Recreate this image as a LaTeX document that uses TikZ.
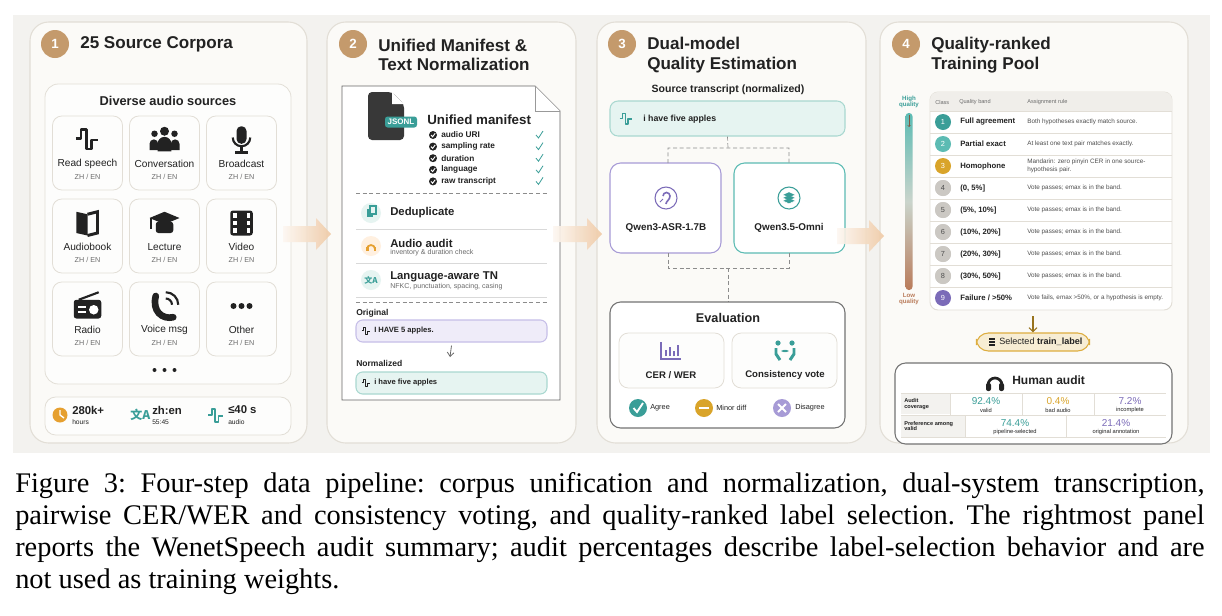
\documentclass[tikz,border=0pt]{standalone}
\usepackage{fontspec}
\setmainfont{Liberation Sans}
\newfontfamily\capfont{Liberation Serif}
\newfontfamily\cjk{Noto Sans CJK SC}
\usetikzlibrary{shapes.geometric,arrows.meta,fit,calc}
\definecolor{bgc}{HTML}{F3F2EF}
\definecolor{panelf}{HTML}{FBFAF7}
\definecolor{panelb}{HTML}{E2DED6}
\definecolor{tan}{HTML}{C49A6C}
\definecolor{teal}{HTML}{3A9E98}
\definecolor{lteal}{HTML}{5CBBB3}
\definecolor{gold}{HTML}{D9A42A}
\definecolor{purp}{HTML}{7B6BB8}
\definecolor{lpurp}{HTML}{A79BD6}
\definecolor{greyc}{HTML}{CBC8C3}
\definecolor{brownq}{HTML}{B97B5A}
\definecolor{mintf}{HTML}{E6F4F1}
\definecolor{mintb}{HTML}{A9D8D0}
\definecolor{lavf}{HTML}{EFECF9}
\definecolor{lavb}{HTML}{C6BEE8}
\definecolor{peach}{HTML}{EFC9A4}
\definecolor{ink}{HTML}{222222}
\definecolor{sub}{HTML}{6B6B6B}
\definecolor{orng}{HTML}{E6A030}
\newcommand\fs[1]{\fontsize{#1}{#1}\selectfont}
\newcommand\icwave[4]{\begin{scope}[shift={(#1,#2)},scale=#3]\draw[#4,line width=1.5pt*#3,line join=round] (-9,-1)--(-5,-1)--(-5,-8)--(-1,-8)--(-1,7)--(3,7)--(3,0)--(8,0);\end{scope}}
\begin{document}
\begin{tikzpicture}[x=0.75pt,y=-0.75pt,
  t/.style={inner sep=0,anchor=west,text=ink},
  tc/.style={inner sep=0,text=ink},
  panel/.style={draw=panelb,fill=panelf,rounded corners=14pt,line width=0.8pt,inner sep=0},
  tile/.style={draw=panelb,fill=white!60!panelf,rounded corners=7pt,line width=0.6pt,inner sep=0},
  num/.style={circle,fill=tan,text=white,font=\bfseries\fs{10},minimum size=21pt,inner sep=0},
  ttl/.style={inner sep=0,anchor=west,text=ink,font=\bfseries\fs{12.8},align=left},
  tlab/.style={tc,font=\fs{7.6}},
  tsub/.style={tc,font=\fs{5.4},text=sub},
  cls/.style={circle,minimum size=12pt,inner sep=0,text=white,font=\fs{5.5}},
  band/.style={t,font=\bfseries\fs{5.8}},
  rule/.style={t,font=\fs{4.75},text=ink!80,align=left},
  dsh/.style={densely dashed,draw=black!45,line width=0.5pt}]
\useasboundingbox (0,0) rectangle (1222,615);
\fill[white] (0,0) rectangle (1222,615);
\fill[bgc] (13,15) rectangle (1210,453);
% ---------- panels
\node[panel,fit={(30,22)(307,443)}] (p1) {};
\node[panel,fit={(327,22)(576,443)}] (p2) {};
\node[panel,fit={(597,22)(866,443)}] (p3) {};
\node[panel,fit={(880,22)(1188,443)}] (p4) {};
% ---------- panel 1
\node[num] (n1) at (55,44) {1};
\node[ttl] (t1) at (80,44) {25 Source Corpora};
\node[tile,rounded corners=10pt,fit={(45,84)(291,384)}] (src) {};
\node[tc,font=\bfseries\fs{9.6}] (srct) at (168,101) {Diverse audio sources};
\foreach \nm/\lab/\cx/\cy in {rs/Read speech/87.5/153, cv/Conversation/164.5/153, bc/Broadcast/241.5/153,
   ab/Audiobook/87.5/236, lc/Lecture/164.5/236, vd/Video/241.5/236,
   rd/Radio/87.5/319, vm/Voice msg/164.5/319, ot/Other/241.5/319}{
  \node[tile,fit={(\cx-35,\cy-37)(\cx+35,\cy+37)}] (\nm) {};
  \node[tlab] (\nm l) at (\cx,\cy+11) {\lab};
  \node[tsub] (\nm s) at (\cx,\cy+24) {ZH / EN};
}
% icons
\icwave{87.5}{140}{1.3}{ink}
\begin{scope}[shift={(164.5,140)},scale=1.25]
 \fill[ink] (0,-7) circle (3.6); \fill[ink] (-8,-5) circle (2.6); \fill[ink] (8,-5) circle (2.6);
 \fill[ink] (-5.5,9)--(-5.5,3) arc (180:360:5.5)--(5.5,9)--cycle;
 \fill[ink] (-12,8)--(-12,3) arc (180:360:3.5)--(-5,8)--cycle;
 \fill[ink] (5,8)--(5,3) arc (180:360:3.5)--(12,8)--cycle;
\end{scope}
\begin{scope}[shift={(241.5,140)},scale=1.25]
 \fill[ink,rounded corners=3.5pt] (-4,-11) rectangle (4,3);
 \draw[ink,line width=1.6pt] (-7,-2) arc (180:0:7);
 \draw[ink,line width=1.6pt] (0,5)--(0,10) (-5,10)--(5,10);
\end{scope}
\begin{scope}[shift={(87.5,223)},scale=1.25]
 \fill[ink] (-9,-9)--(0,-7)--(0,10)--(-9,8)--cycle;
 \draw[ink,line width=2.2pt] (0,-7)--(8,-9)--(8,8)--(0,10);
\end{scope}
\begin{scope}[shift={(164.5,223)},scale=1.25]
 \fill[ink] (0,-9)--(12,-4)--(0,1)--(-12,-4)--cycle;
 \fill[ink,rounded corners=2pt] (-7,-1) rectangle (7,8);
 \draw[ink,line width=1.4pt] (-11,-4)--(-11,5);
\end{scope}
\begin{scope}[shift={(241.5,223)},scale=1.25]
 \fill[ink,rounded corners=2pt] (-9,-10) rectangle (9,10);
 \foreach \yy in {-6,0,6}{\fill[white] (-7,\yy-1.8) rectangle (-4,\yy+1.8); \fill[white] (4,\yy-1.8) rectangle (7,\yy+1.8);}
\end{scope}
\begin{scope}[shift={(87.5,306)},scale=1.25]
 \draw[ink,line width=1.6pt] (-7,-5)--(9,-11);
 \fill[ink,rounded corners=2pt] (-11,-5) rectangle (11,10);
 \fill[white] (5,3) circle (3.8);
 \fill[white] (-8,0) rectangle (-1,1.5); \fill[white] (-8,4) rectangle (-1,5.5);
\end{scope}
\begin{scope}[shift={(164.5,306)},scale=1.25]
 \draw[ink,line width=5pt,line cap=round] (-7,-8) .. controls (-10,4) and (-2,11) .. (7,9);
 \draw[ink,line width=1.6pt] (1,-6) arc (270:360:5);
 \draw[ink,line width=1.6pt] (1,-11) arc (270:360:10);
\end{scope}
\foreach \dx in {-8,0,8}{\fill[ink] (241.5+\dx,306) circle (3);}
\foreach \dx in {-10,0,10}{\fill[ink] (164.5+\dx,370) circle (2);}
% stats
\node[tile,rounded corners=8pt,fit={(45,397)(291,435)}] (stats) {};
\fill[orng] (60,415) circle (7.5); \draw[white,line width=1pt] (60,410)--(60,415)--(64,418);
\node[t,font=\bfseries\fs{8.5}] (s1) at (72,410) {280k+};
\node[t,font=\fs{5}] (s1b) at (72,422) {hours};
\node[t,font=\cjk\bfseries\fs{9},text=teal] (s2i) at (130,415) {文A};
\node[t,font=\bfseries\fs{8.5}] (s2) at (152,410) {zh:en};
\node[t,font=\fs{5}] (s2b) at (152,422) {55:45};
\icwave{216}{416}{0.85}{teal}
\node[t,font=\bfseries\fs{8.5}] (s3) at (228,410) {≤40 s};
\node[t,font=\fs{5}] (s3b) at (228,422) {audio};
% ---------- panel 2
\node[num] (n2) at (353,44) {2};
\node[ttl] (t2) at (378,55) {Unified Manifest \&\\[2pt] Text Normalization};
\draw[black!60,fill=white,line width=0.7pt] (342,86)--(535,86)--(560,111)--(560,400)--(342,400)--cycle;
\node[inner sep=0,fit={(342,86)(560,400)}] (doc) {};
\fill[white] (535,86)--(535,111)--(560,111)--cycle;
\draw[black!40,line width=0.6pt] (535,86)--(535,111)--(560,111);
\begin{scope}[shift={(386,116)}]
 \fill[ink!90,rounded corners=3pt] (-18,-24)--(6,-24)--(18,-12)--(18,24)--(-18,24)--cycle;
 \fill[white] (6,-24)--(6,-12)--(18,-12)--cycle;
\end{scope}
\node[fill=teal,text=white,font=\bfseries\fs{6},rounded corners=2pt,inner sep=2pt] (jsonl) at (401,122) {JSONL};
\node[t,font=\bfseries\fs{10}] (um) at (427,120) {Unified manifest};
\foreach \i/\it in {0/audio URI,1/sampling rate,2/duration,3/language,4/raw transcript}{
  \fill[ink] (433,135+11.6*\i) circle (4);
  \draw[white,line width=0.7pt] (431,135+11.6*\i)--(432.6,136.8+11.6*\i)--(435.2,133.3+11.6*\i);
  \node[t,font=\bfseries\fs{6.2}] (ck\i) at (441,135+11.6*\i) {\it};
  \draw[teal,line width=0.6pt] (536,135+11.6*\i)--(538.5,138+11.6*\i)--(543,131+11.6*\i);
}
\draw[dsh] (356,193)--(547,193);
\fill[mintf] (371,213) circle (10);
\fill[teal] (367,209) rectangle (373,217); \draw[teal,fill=mintf,line width=0.8pt] (370,206) rectangle (376,214);
\node[t,font=\bfseries\fs{8.5}] (dd) at (390,213) {Deduplicate};
\draw[black!15] (356,229)--(547,229);
\fill[orange!12] (371,246) circle (10);
\draw[orng,line width=1.3pt] (367,249) arc (180:360:4); \fill[orng] (366,247) rectangle (368.5,251); \fill[orng] (373.5,247) rectangle (376,251);
\node[t,font=\bfseries\fs{8.5}] (aa) at (390,243) {Audio audit};
\node[t,font=\fs{5.3},text=sub] (aas) at (390,253) {inventory \& duration check};
\draw[black!15] (356,263)--(547,263);
\fill[mintf] (371,280) circle (10);
\node[tc,font=\cjk\bfseries\fs{6},text=teal] (tni) at (371,280) {文A};
\node[t,font=\bfseries\fs{8.5}] (tn) at (390,277) {Language-aware TN};
\node[t,font=\fs{5.3},text=sub] (tns) at (390,287) {NFKC, punctuation, spacing, casing};
\draw[black!15] (356,297)--(547,297);
\draw[dsh] (356,302)--(547,302);
\node[t,font=\bfseries\fs{6.4}] (orig) at (356,313) {Original};
\node[draw=lavb,fill=lavf,rounded corners=5pt,line width=0.8pt,fit={(356,320)(547,342)},inner sep=0] (ob) {};
\icwave{366}{331}{0.45}{ink}
\node[t,font=\bfseries\fs{5.7}] (obt) at (374,331) {I HAVE 5 apples.};
\node[draw=mintb,fill=mintf,rounded corners=5pt,line width=0.8pt,fit={(356,372)(547,394)},inner sep=0] (nb) {};
\draw[-{Straight Barb[length=3pt,width=5pt]},black!60,line width=0.6pt] (ob.south)++(0,3)--(450,357);
\node[t,font=\bfseries\fs{6.4}] (norm) at (356,363) {Normalized};
\icwave{366}{383}{0.45}{ink}
\node[t,font=\bfseries\fs{5.7}] (nbt) at (374,383) {i have five apples};
% ---------- panel 3
\node[num] (n3) at (622,44) {3};
\node[ttl] (t3) at (647,55) {Dual-model\\[2pt] Quality Estimation};
\node[tc,font=\bfseries\fs{7.9}] (srcl) at (728,90) {Source transcript (normalized)};
\node[draw=mintb,fill=mintf,rounded corners=6pt,line width=0.8pt,fit={(610,101)(845,136)},inner sep=0] (stb) {};
\icwave{626}{119}{0.7}{teal}
\node[t,font=\bfseries\fs{6.6}] (stt) at (643,119) {i have five apples};
\node[draw=lpurp,fill=white,rounded corners=8pt,line width=0.8pt,fit={(610,163)(721,253)},inner sep=0] (m1) {};
\node[draw=lteal,fill=white,rounded corners=8pt,line width=0.8pt,fit={(734,163)(845,253)},inner sep=0] (m2) {};
\draw[dsh] (stb.south)--(728,148) (668,163)--(668,148)--(789,148)--(789,163);
\draw[dsh] (668,253)--(668,268)--(789,268)--(789,253) (728,268)--(728,302);
\draw[purp,line width=0.8pt] (666,198) circle (11);
\draw[purp,line width=1.2pt] (663,196) arc (180:360:3.5) .. controls (670,200) and (666,201) .. (666,204);
\draw[purp,line width=0.7pt] (660,202)--(663,199);
\node[tc,font=\bfseries\fs{7.4}] (m1l) at (666,228) {Qwen3-ASR-1.7B};
\draw[teal,line width=0.8pt] (789,198) circle (11);
\foreach \dy in {-3,0,3}{\fill[teal] (789,198+\dy-2.8)--(795,198+\dy)--(789,198+\dy+2.8)--(783,198+\dy)--cycle; \draw[white,line width=0.4pt] (783,198+\dy)--(789,198+\dy+2.8)--(795,198+\dy);}
\node[tc,font=\bfseries\fs{7.4}] (m2l) at (789,228) {Qwen3.5-Omni};
\node[draw=black!55,fill=white,rounded corners=8pt,line width=0.8pt,fit={(610,302)(845,428)},inner sep=0] (ev) {};
\node[tc,font=\bfseries\fs{9.5}] (evt) at (728,318) {Evaluation};
\node[tile,fit={(619,333)(724,388)}] (cer) {};
\node[tile,fit={(732,333)(837,388)}] (cv2) {};
\draw[purp,line width=1.5pt] (661,342)--(661,359)--(681,359);
\foreach \bx/\bh in {666/6,670/9,674/5,678/11}{\draw[purp,line width=1.4pt] (\bx,356)--(\bx,356-\bh);}
\node[tc,font=\bfseries\fs{7.2}] (cerl) at (671,375) {CER / WER};
\begin{scope}[shift={(785,352)}]
 \fill[teal] (-7,-9) circle (2.6); \fill[teal] (7,-9) circle (2.6);
 \draw[teal,line width=2.2pt] (-9,-4)--(-9,2)--(-5,8) (9,-4)--(9,2)--(5,8);
 \draw[teal,line width=0.9pt,{Stealth[length=2.5pt]}-{Stealth[length=2.5pt]}] (-4,-1)--(4,-1);
\end{scope}
\node[tc,font=\bfseries\fs{7.2}] (cvl) at (785,375) {Consistency vote};
\fill[teal] (638,408) circle (9); \draw[white,line width=1.4pt] (633.5,408)--(637,412)--(643,403);
\node[t,font=\fs{5.5}] (lg1) at (650,408) {Agree};
\fill[gold] (704,408) circle (9); \draw[white,line width=1.6pt] (699,408)--(709,408);
\node[t,font=\fs{5.5}] (lg2) at (716,408) {Minor diff};
\fill[lpurp] (782,408) circle (9); \draw[white,line width=1.4pt] (778,404)--(786,412) (778,412)--(786,404);
\node[t,font=\fs{5.5}] (lg3) at (795,408) {Disagree};
% ---------- panel 4
\node[num] (n4) at (906,44) {4};
\node[ttl] (t4) at (931,55) {Quality-ranked\\[2pt] Training Pool};
\node[tc,font=\bfseries\fs{4.6},text=teal,align=center] (hq) at (909,102) {High\\quality};
\shade[top color=lteal,bottom color=brownq,middle color=white!70!lteal!80!brownq,rounded corners=2.5pt] (905.5,113) rectangle (912.5,290);
\draw[brownq!70!black,line width=0.4pt,-{Straight Barb[length=1pt]}] (909,115)--(909,127);
\node[tc,font=\bfseries\fs{4.6},text=brownq,align=center] (lq) at (909,299) {Low\\quality};
\node[draw=panelb,fill=white,rounded corners=6pt,line width=0.7pt,fit={(930,92)(1172,310)},inner sep=0] (tab) {};
\begin{scope}
 \clip[rounded corners=6pt] (930,92) rectangle (1172,310);
 \fill[bgc!80!panelb] (930,92) rectangle (1172,111);
\end{scope}
\node[t,font=\fs{4.2},text=sub] (h1) at (935,102) {Class};
\node[t,font=\fs{4.2},text=sub] (h2) at (959,102) {Quality band};
\node[t,font=\fs{4.2},text=sub] (h3) at (1027,102) {Assignment rule};
\foreach \i in {1,...,8}{\draw[panelb,line width=0.5pt] (930,111+22*\i)--(1172,111+22*\i);}
\draw[panelb,line width=0.5pt] (930,111)--(1172,111);
\newcommand\trow[4]{%
  \node[cls,fill=#2] (c#1) at (943,{122+22*(#1-1)}) {#1};
  \node[band] (b#1) at (960,{122+22*(#1-1)}) {#3};
  \node[rule] (r#1) at (1027,{122+22*(#1-1)}) {#4};}
\trow{1}{teal}{Full agreement}{Both hypotheses exactly match source.}
\trow{2}{lteal}{Partial exact}{At least one text pair matches exactly.}
\trow{3}{gold}{Homophone}{Mandarin: zero pinyin CER in one source-\\[1pt]hypothesis pair.}
\trow{4}{greyc}{(0, 5\%]}{Vote passes; emax is in the band.}
\trow{5}{greyc}{(5\%, 10\%]}{Vote passes; emax is in the band.}
\trow{6}{greyc}{(10\%, 20\%]}{Vote passes; emax is in the band.}
\trow{7}{greyc}{(20\%, 30\%]}{Vote passes; emax is in the band.}
\trow{8}{greyc}{(30\%, 50\%]}{Vote passes; emax is in the band.}
\trow{9}{purp}{Failure / >50\%}{Vote fails, emax >50\%, or a hypothesis is empty.}
\foreach \i in {4,...,8}{\node[cls,fill=greyc,text=ink!80] at (c\i) {\i};}
\node[draw=gold!90,fill=gold!20,rounded corners=9pt,line width=0.8pt,minimum width=85pt,minimum height=13.5pt,inner sep=0] (sel) at (1033,342) {};
\draw[-{Straight Barb[length=3pt,width=6pt]},gold!70!black,line width=0.8pt] (tab.south)++(1033-1051,6)--(sel.north);
\begin{scope}[shift={(992,342)}]
 \foreach \dy in {-3,0,3}{\fill[ink] (-3,\dy-1.2) rectangle (3,\dy+1.2);}
\end{scope}
\node[t,font=\fs{6.8}] (selt) at (999,342) {Selected \textbf{train\_label}};
\node[draw=black!55,fill=white,rounded corners=8pt,line width=0.8pt,fit={(895,363)(1172,444)},inner sep=0] (ha) {};
\begin{scope}[shift={(995,381)}]
 \draw[ink,line width=2pt] (-7,4) arc (180:360:7);
 \fill[ink,rounded corners=1.5pt] (-9,2) rectangle (-4,10); \fill[ink,rounded corners=1.5pt] (4,2) rectangle (9,10);
\end{scope}
\node[t,font=\bfseries\fs{9}] (hat) at (1012,380) {Human audit};
\fill[bgc] (901,393) rectangle (950,414);
\fill[bgc] (901,416) rectangle (965,437);
\draw[panelb,line width=0.5pt] (901,393)--(1166,393) (901,415)--(1166,415) (901,437)--(1166,437)
  (950,393)--(950,415) (1022,393)--(1022,415) (1094,393)--(1094,415) (965,415)--(965,437) (1066,415)--(1066,437);
\node[t,font=\bfseries\fs{4.2},align=left] (ac) at (904,404) {Audit\\coverage};
\node[tc,font=\fs{7.5},text=teal] (v1) at (986,401) {92.4\%};
\node[tc,font=\fs{4.3}] (v1s) at (986,410) {valid};
\node[tc,font=\fs{7.5},text=gold] (v2) at (1058,401) {0.4\%};
\node[tc,font=\fs{4.3}] (v2s) at (1058,410) {bad audio};
\node[tc,font=\fs{7.5},text=purp] (v3) at (1130,401) {7.2\%};
\node[tc,font=\fs{4.3}] (v3s) at (1130,410) {incomplete};
\node[t,font=\bfseries\fs{4.2},align=left] (pv) at (904,426) {Preference among\\valid};
\node[tc,font=\fs{7.5},text=teal] (v4) at (1015,423) {74.4\%};
\node[tc,font=\fs{4.3}] (v4s) at (1015,432) {pipeline-selected};
\node[tc,font=\fs{7.5},text=purp] (v5) at (1116,423) {21.4\%};
\node[tc,font=\fs{4.3}] (v5s) at (1116,432) {original annotation};
% ---------- big arrows
\foreach \xa/\xb/\ya in {283/331/234, 553/602/234, 837/884/236}{
 \shade[left color=peach!15,right color=peach,opacity=0.9] (\xa,\ya-8)--(\xb-15,\ya-8)--(\xb-15,\ya-16)--(\xb,\ya)--(\xb-15,\ya+16)--(\xb-15,\ya+8)--(\xa,\ya+8)--cycle;}
% ---------- caption
\node[anchor=north west,inner sep=0,text width=892pt,align=justify,font=\capfont\fontsize{21.3}{24}\selectfont\frenchspacing,text=black] (cap) at (15,472)
 {Figure 3: Four-step data pipeline: corpus unification and normalization, dual-system transcription,\linebreak pairwise CER/WER and consistency voting, and quality-ranked label selection. The rightmost panel\linebreak reports the WenetSpeech audit summary; audit percentages describe label-selection behavior and are\linebreak not used as training weights.};
\end{tikzpicture}
\end{document}
